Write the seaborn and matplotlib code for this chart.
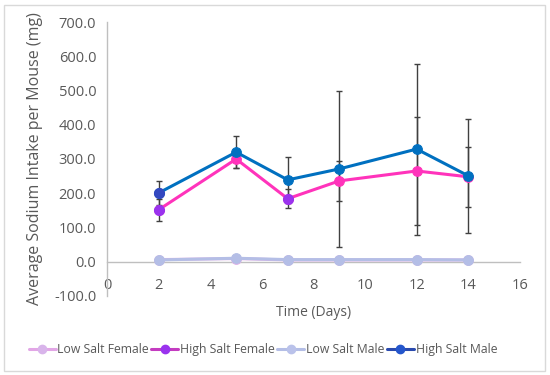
import numpy as np
import pandas as pd
import seaborn as sns
import matplotlib.pyplot as plt
from matplotlib.lines import Line2D
from matplotlib.patches import Rectangle

# Data
days = [2, 5, 7, 9, 12, 14]
low_female = [6, 9, 5, 5, 5, 5]
low_female_err = [3, 3, 2, 2, 2, 2]
high_female = [152, 300, 184, 236, 265, 248]
high_female_err = [32, 25, 28, 58, 158, 88]
low_male = [5, 10, 6, 6, 6, 5]
low_male_err = [3, 3, 2, 2, 2, 2]
high_male = [201, 320, 239, 271, 329, 251]
high_male_err = [35, 47, 67, 229, 250, 166]

series = ["Low Salt Female", "High Salt Female", "Low Salt Male", "High Salt Male"]

df = pd.DataFrame({
    "day": days * 4,
    "value": low_female + high_female + low_male + high_male,
    "err": low_female_err + high_female_err + low_male_err + high_male_err,
    "group": np.repeat(series, len(days)),
})

line_colors = {
    "Low Salt Female": "#DDB0E6",
    "High Salt Female": "#FF33BB",
    "Low Salt Male": "#B4BEE6",
    "High Salt Male": "#0070C0",
}
legend_line = {
    "Low Salt Female": ("#E2A6E6", "#D8B4EA"),
    "High Salt Female": ("#C43CC0", "#9A33EE"),
    "Low Salt Male": ("#B4BEE6", "#BAC2EA"),
    "High Salt Male": ("#2A4AAE", "#2456CC"),
}

sns.set_style("white")
plt.rcParams["font.family"] = ["Open Sans", "DejaVu Sans"]

fig, ax = plt.subplots(figsize=(5.5, 3.75), dpi=100)
fig.subplots_adjust(left=0.195, right=0.945, top=0.941, bottom=0.211)

grey = "#595959"
for name in series:
    sub = df[df["group"] == name]
    ax.errorbar(sub["day"], sub["value"], yerr=sub["err"], fmt="none",
                ecolor="#404040", elinewidth=1, capsize=2.5, capthick=1, zorder=2)
for name in series:
    sub = df[df["group"] == name]
    sns.lineplot(data=sub, x="day", y="value", ax=ax, color=line_colors[name],
                 linewidth=2.2, marker="o", markersize=7,
                 markeredgecolor=line_colors[name], zorder=3, legend=False)

# some markers are drawn in a different shade in the original
hf = df[(df["group"] == "High Salt Female") & df["day"].isin([2, 7])]
ax.plot(hf["day"], hf["value"], "o", color="#9A33EE", markersize=7, zorder=4)
hm = df[(df["group"] == "High Salt Male") & (df["day"] == 2)]
ax.plot(hm["day"], hm["value"], "o", color="#3348C0", markersize=7, zorder=4)

ax.set_xlim(0, 16)
ax.set_ylim(-100, 700)
ax.set_xticks(range(0, 17, 2))
ax.set_yticks(range(-100, 701, 100))
ax.set_yticklabels([f"{v:.1f}" for v in range(-100, 701, 100)])
ax.tick_params(length=0, labelsize=10.5, colors=grey)
ax.tick_params(axis="x", pad=12)
ax.tick_params(axis="y", pad=8)

for s in ["top", "right"]:
    ax.spines[s].set_visible(False)
ax.spines["bottom"].set_position(("data", 0))
ax.spines["bottom"].set_color("#BFBFBF")
ax.spines["left"].set_color("#BFBFBF")
ax.spines["bottom"].set_linewidth(1)
ax.spines["left"].set_linewidth(1)

ax.set_xlabel("Time (Days)", fontsize=10, color=grey)
ax.set_ylabel("Average Sodium Intake per Mouse (mg)", fontsize=11.5, color=grey)
ax.xaxis.set_label_coords(0.5, -0.035)
ax.yaxis.set_label_coords(-0.155, 0.5)

handles = [Line2D([0], [0], color=legend_line[n][0], lw=2.2, marker="o",
                  markersize=6, markerfacecolor=legend_line[n][1],
                  markeredgecolor=legend_line[n][1]) for n in series]
fig.legend(handles, series, loc="center", bbox_to_anchor=(0.478, 0.068), ncol=4,
           frameon=False, fontsize=8.8, handlelength=2.2, handletextpad=0.15,
           columnspacing=0.2, labelcolor=grey)

fig.patches.append(Rectangle((0.007, 0.012), 0.984, 0.976, transform=fig.transFigure,
                             fill=False, edgecolor="#D9D9D9", linewidth=1))

fig.savefig("out.png", dpi=100)
